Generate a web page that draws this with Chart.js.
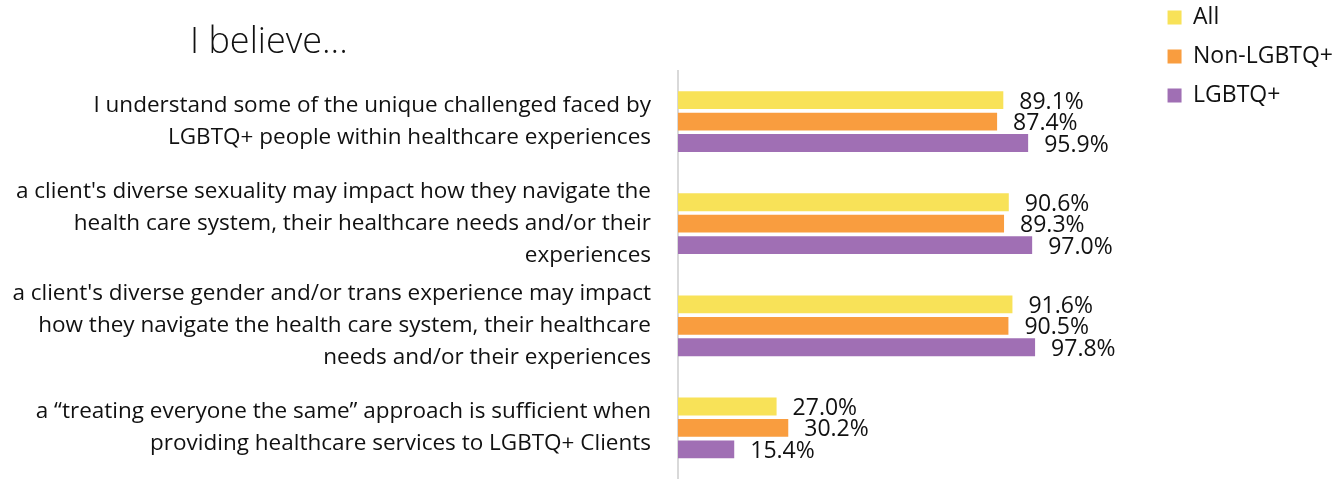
<!DOCTYPE html>
<html lang="en">
<head>
<meta charset="UTF-8">
<title>I believe...</title>
<script src="https://cdn.jsdelivr.net/npm/chart.js"></script>
<style>
    html, body {
        margin: 0;
        padding: 0;
        background: #fff;
    }
    .wrap {
        position: relative;
        width: 1341px;
        height: 479px;
    }
    .title {
        position: absolute;
        left: 190px;
        top: 22px;
        margin: 0;
        font-family: "Open Sans", sans-serif;
        font-size: 36px;
        font-weight: 300;
        line-height: 1;
        color: #111;
    }
</style>
</head>
<body>
<div class="wrap">
    <canvas id="chart" width="1341" height="479"></canvas>
    <h1 class="title">I believe...</h1>
</div>

<script>
    const categories = [
        ["I understand some of the unique challenged faced by", "LGBTQ+ people within healthcare experiences"],
        ["a client's diverse sexuality may impact how they navigate the", "health care system, their healthcare needs and/or their", "experiences"],
        ["a client's diverse gender and/or trans experience may impact", "how they navigate the health care system, their healthcare", "needs and/or their experiences"],
        ["a \u201ctreating everyone the same\u201d approach is sufficient when", "providing healthcare services to LGBTQ+ Clients"]
    ];
    const allValues = [89.1, 90.6, 91.6, 27.0];
    const nonLgbtqValues = [87.4, 89.3, 90.5, 30.2];
    const lgbtqValues = [95.9, 97.0, 97.8, 15.4];

    Chart.defaults.font.family = '"Open Sans", sans-serif';
    Chart.defaults.color = '#111';

    // percentage text to the right of each bar
    const valueLabels = {
        id: 'valueLabels',
        afterDatasetsDraw(chart) {
            const ctx = chart.ctx;
            ctx.save();
            ctx.font = '23px "Open Sans", sans-serif';
            ctx.fillStyle = '#111';
            ctx.textBaseline = 'middle';
            chart.data.datasets.forEach((ds, i) => {
                chart.getDatasetMeta(i).data.forEach((bar, j) => {
                    ctx.fillText(ds.data[j].toFixed(1) + '%', bar.x + 16, bar.y + 2);
                });
            });
            ctx.restore();
        }
    };

    new Chart(document.getElementById('chart'), {
        type: 'bar',
        data: {
            labels: categories,
            datasets: [
                { label: 'All', data: allValues, backgroundColor: '#F8E258' },
                { label: 'Non-LGBTQ+', data: nonLgbtqValues, backgroundColor: '#F99D3F' },
                { label: 'LGBTQ+', data: lgbtqValues, backgroundColor: '#A06FB4' }
            ]
        },
        options: {
            indexAxis: 'y',
            responsive: false,
            animation: false,
            categoryPercentage: 0.63,
            barPercentage: 0.83,
            layout: {
                padding: { top: -10, right: -2, bottom: -3.5, left: 0 }
            },
            scales: {
                x: {
                    position: 'top',
                    min: 0,
                    max: 129.7,
                    ticks: { display: false },
                    grid: { display: false, drawTicks: false },
                    border: { display: false },
                    afterFit: (s) => { s.height = 80.5; }
                },
                y: {
                    grid: { display: false, drawTicks: false },
                    border: { display: true, color: '#D9D9D9', width: 2 },
                    ticks: {
                        autoSkip: false,
                        padding: 27,
                        color: '#111',
                        font: { size: 22.5, lineHeight: 1.42 }
                    },
                    afterFit: (s) => {
                        s.width = 678;
                        s.paddingTop = 0;
                        s.paddingBottom = 0;
                    }
                }
            },
            plugins: {
                legend: {
                    position: 'right',
                    align: 'start',
                    labels: {
                        boxWidth: 14,
                        boxHeight: 14,
                        padding: 16,
                        color: '#111',
                        font: { size: 23 }
                    }
                },
                tooltip: { enabled: false }
            }
        },
        plugins: [valueLabels]
    });
</script>
</body>
</html>
